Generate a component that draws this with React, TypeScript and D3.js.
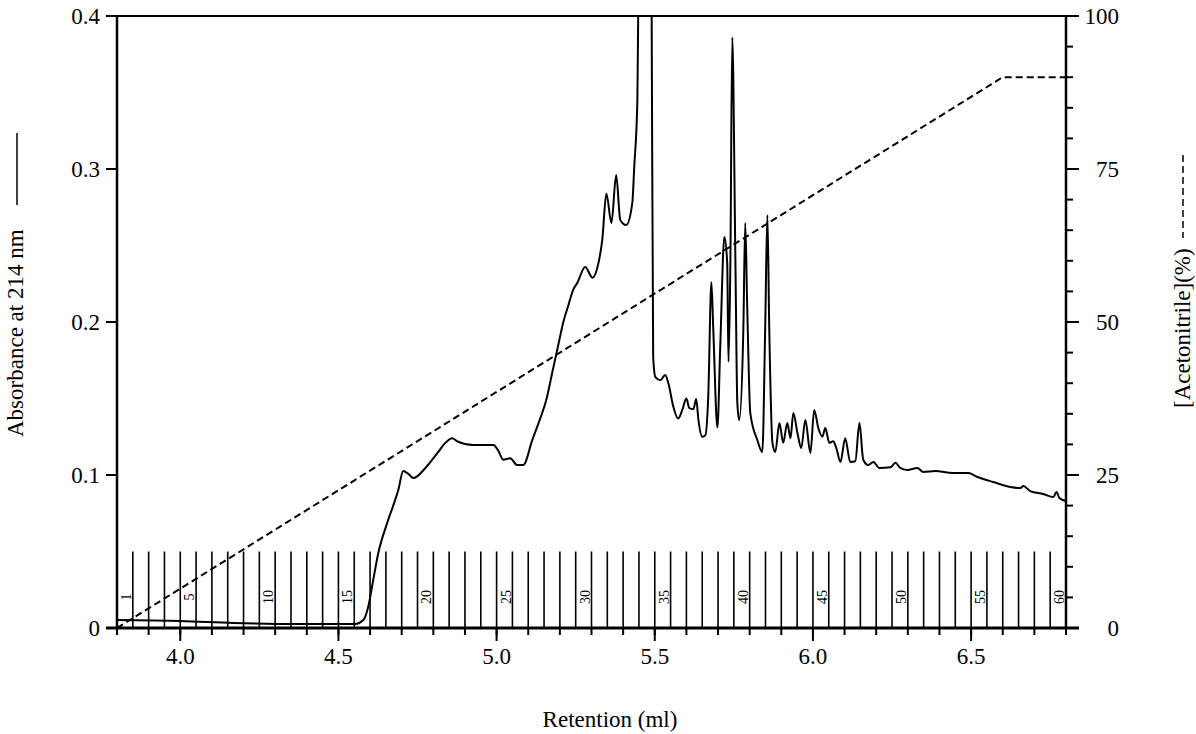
import React from "react";
import * as d3 from "d3";

// Chromatogram trace: [retention (ml), absorbance at 214 nm]
const trace: [number, number][] = [
  [3.8, 0.0052], [4.0, 0.0046], [4.168, 0.0033], [4.379, 0.0026], [4.553, 0.0026],
  [4.579, 0.0052], [4.594, 0.0137], [4.61, 0.0314], [4.626, 0.049], [4.654, 0.0686],
  [4.689, 0.09], [4.705, 0.1026], [4.721, 0.1007], [4.737, 0.098], [4.775, 0.1046],
  [4.813, 0.1144], [4.838, 0.121], [4.86, 0.124], [4.876, 0.122], [4.926, 0.1196],
  [4.99, 0.1196], [5.005, 0.116], [5.021, 0.11], [5.043, 0.111], [5.065, 0.1065],
  [5.084, 0.1065], [5.113, 0.123], [5.138, 0.137], [5.157, 0.149], [5.176, 0.167],
  [5.195, 0.185], [5.211, 0.2], [5.227, 0.211], [5.242, 0.221], [5.255, 0.2255],
  [5.28, 0.236], [5.303, 0.229], [5.322, 0.2386], [5.334, 0.2536], [5.347, 0.284],
  [5.363, 0.2647], [5.378, 0.296], [5.391, 0.2667], [5.41, 0.2634], [5.429, 0.2778],
  [5.435, 0.301], [5.445, 0.345], [5.448, 0.41], [5.468, 0.9], [5.49, 0.41],
  [5.495, 0.177], [5.502, 0.164], [5.518, 0.162], [5.533, 0.1654], [5.543, 0.16],
  [5.559, 0.1444], [5.574, 0.137], [5.587, 0.1425], [5.6, 0.15], [5.609, 0.1438],
  [5.622, 0.143], [5.631, 0.1497], [5.638, 0.136], [5.65, 0.125], [5.66, 0.126],
  [5.669, 0.151], [5.679, 0.226], [5.685, 0.195], [5.698, 0.131], [5.707, 0.184],
  [5.72, 0.2556], [5.729, 0.2386], [5.733, 0.174], [5.739, 0.2386], [5.745, 0.386],
  [5.755, 0.2386], [5.761, 0.147], [5.767, 0.136], [5.78, 0.195], [5.786, 0.2647],
  [5.792, 0.2124], [5.802, 0.1405], [5.824, 0.123], [5.84, 0.115], [5.849, 0.195],
  [5.856, 0.27], [5.862, 0.195], [5.872, 0.121], [5.881, 0.115], [5.894, 0.134],
  [5.906, 0.121], [5.919, 0.134], [5.929, 0.124], [5.938, 0.1405], [5.951, 0.1275],
  [5.963, 0.1176], [5.976, 0.136], [5.992, 0.1144], [6.004, 0.1425], [6.017, 0.1307],
  [6.03, 0.125], [6.039, 0.1307], [6.052, 0.121], [6.064, 0.122], [6.074, 0.1176],
  [6.087, 0.1085], [6.102, 0.124], [6.118, 0.1085], [6.134, 0.109], [6.147, 0.134],
  [6.159, 0.11], [6.175, 0.1065], [6.191, 0.1085], [6.21, 0.1046], [6.245, 0.105],
  [6.261, 0.108], [6.276, 0.1046], [6.298, 0.1033], [6.33, 0.1046], [6.349, 0.102],
  [6.387, 0.1026], [6.441, 0.1013], [6.491, 0.1013], [6.52, 0.0987], [6.57, 0.0954],
  [6.624, 0.0922], [6.656, 0.0915], [6.665, 0.0928], [6.687, 0.0895], [6.728, 0.0876],
  [6.76, 0.0856], [6.77, 0.0889], [6.779, 0.085], [6.8, 0.083],
];

// Acetonitrile gradient (%)
const gradientRetention = [3.8, 6.6, 6.8];
const gradientPercent = [0, 90, 90];

// Axis ticks
const xMajorTicks = [4.0, 4.5, 5.0, 5.5, 6.0, 6.5];
const xMajorLabels = ["4.0", "4.5", "5.0", "5.5", "6.0", "6.5"];
const yLeftTicks = [0, 0.1, 0.2, 0.3, 0.4];
const yLeftLabels = ["0", "0.1", "0.2", "0.3", "0.4"];
const yRightMajor = [0, 25, 50, 75, 100];
const yRightLabels = ["0", "25", "50", "75", "100"];

// Fractions
const fractionStart = 3.8;
const fractionWidth = 0.05;
const fractionCount = 60;
const fractionLabels = [1, 5, 10, 15, 20, 25, 30, 35, 40, 45, 50, 55, 60];
const fractionMarkHeight = 0.05;

const W = 1196;
const H = 734;
const left = 117;
const right = 1066;
const top = 16;
const bottom = 628;
const FONT = "'Liberation Serif', 'Times New Roman', Times, serif";

export default function App() {
  const x = d3.scaleLinear().domain([3.8, 6.8]).range([left, right]);
  const yL = d3.scaleLinear().domain([0, 0.4]).range([bottom, top]);
  const yR = d3.scaleLinear().domain([0, 100]).range([bottom, top]);

  const traceLine = d3
    .line<[number, number]>()
    .x((d) => x(d[0]))
    .y((d) => yL(d[1]))
    .curve(d3.curveMonotoneX)(trace) as string;

  const gradData = gradientRetention.map((r, i) => [r, gradientPercent[i]] as [number, number]);
  const gradLine = d3
    .line<[number, number]>()
    .x((d) => x(d[0]))
    .y((d) => yR(d[1]))(gradData) as string;

  const xMinor = d3.range(38, 69).map((v) => v / 10);
  const yRightMinor = d3.range(0, 101, 5);
  const fractionBounds = d3.range(1, fractionCount).map((i) => fractionStart + i * fractionWidth);

  return (
    <svg
      width={W}
      height={H}
      style={{ position: "absolute", left: 0, top: 0, background: "#fff" }}
      fontFamily={FONT}
    >
      <rect x={0} y={0} width={W} height={H} fill="#fff" />
      <defs>
        <clipPath id="plotclip">
          <rect x={left} y={top} width={right - left} height={bottom - top} />
        </clipPath>
      </defs>

      {/* fraction marks */}
      {fractionBounds.map((f, i) => (
        <line
          key={"fr" + i}
          x1={x(f)}
          x2={x(f)}
          y1={yL(0)}
          y2={yL(fractionMarkHeight)}
          stroke="#000"
          strokeWidth={1.6}
        />
      ))}
      {fractionLabels.map((n) => {
        const cx = x(fractionStart + (n - 0.5) * fractionWidth) + 6;
        const cy = 597;
        return (
          <text
            key={"fl" + n}
            transform={`translate(${cx},${cy}) rotate(-90)`}
            textAnchor="middle"
            fontSize={14}
          >
            {n}
          </text>
        );
      })}

      {/* gradient */}
      <path
        d={gradLine}
        fill="none"
        stroke="#000"
        strokeWidth={2}
        strokeDasharray="7,4"
        clipPath="url(#plotclip)"
      />

      {/* trace */}
      <path
        d={traceLine}
        fill="none"
        stroke="#000"
        strokeWidth={2}
        strokeLinejoin="round"
        clipPath="url(#plotclip)"
      />

      {/* frame */}
      <line x1={left} x2={right} y1={top} y2={top} stroke="#000" strokeWidth={2} />
      <line x1={left} x2={left} y1={top} y2={bottom} stroke="#000" strokeWidth={2.5} />
      <line x1={right} x2={right} y1={top} y2={bottom} stroke="#000" strokeWidth={2.5} />
      <line x1={left - 11} x2={right + 13} y1={bottom} y2={bottom} stroke="#000" strokeWidth={3} />

      {/* x ticks */}
      {xMinor.map((v, i) => (
        <line key={"xm" + i} x1={x(v)} x2={x(v)} y1={bottom} y2={bottom + 7} stroke="#000" strokeWidth={2} />
      ))}
      {xMajorTicks.map((v, i) => (
        <g key={"xM" + i}>
          <line x1={x(v)} x2={x(v)} y1={bottom} y2={bottom + 13} stroke="#000" strokeWidth={2} />
          <text x={x(v)} y={664} textAnchor="middle" fontSize={23}>
            {xMajorLabels[i]}
          </text>
        </g>
      ))}

      {/* left ticks */}
      {yLeftTicks.map((v, i) => (
        <g key={"yl" + i}>
          <line x1={left - 11} x2={left} y1={yL(v)} y2={yL(v)} stroke="#000" strokeWidth={2} />
          <text x={100} y={yL(v) + 8} textAnchor="end" fontSize={23}>
            {yLeftLabels[i]}
          </text>
        </g>
      ))}

      {/* right ticks */}
      {yRightMinor.map((v) => (
        <line key={"yrm" + v} x1={right} x2={right + 7} y1={yR(v)} y2={yR(v)} stroke="#000" strokeWidth={2} />
      ))}
      {yRightMajor.map((v, i) => (
        <g key={"yrM" + i}>
          <line x1={right} x2={right + 13} y1={yR(v)} y2={yR(v)} stroke="#000" strokeWidth={2} />
          <text x={1119} y={yR(v) + 8} textAnchor="end" fontSize={23}>
            {yRightLabels[i]}
          </text>
        </g>
      ))}

      {/* axis titles */}
      <text x={610} y={727} textAnchor="middle" fontSize={23}>
        Retention (ml)
      </text>
      <text transform="translate(23,437) rotate(-90)" textAnchor="start" fontSize={23}>
        Absorbance at 214 nm
      </text>
      <line x1={17} x2={17} y1={133} y2={205} stroke="#000" strokeWidth={1.5} />
      <text transform="translate(1190,408) rotate(-90)" textAnchor="start" fontSize={23}>
        [Acetonitrile](%)
      </text>
      <line x1={1183} x2={1183} y1={155} y2={238} stroke="#000" strokeWidth={1.5} strokeDasharray="7,4" />
    </svg>
  );
}
